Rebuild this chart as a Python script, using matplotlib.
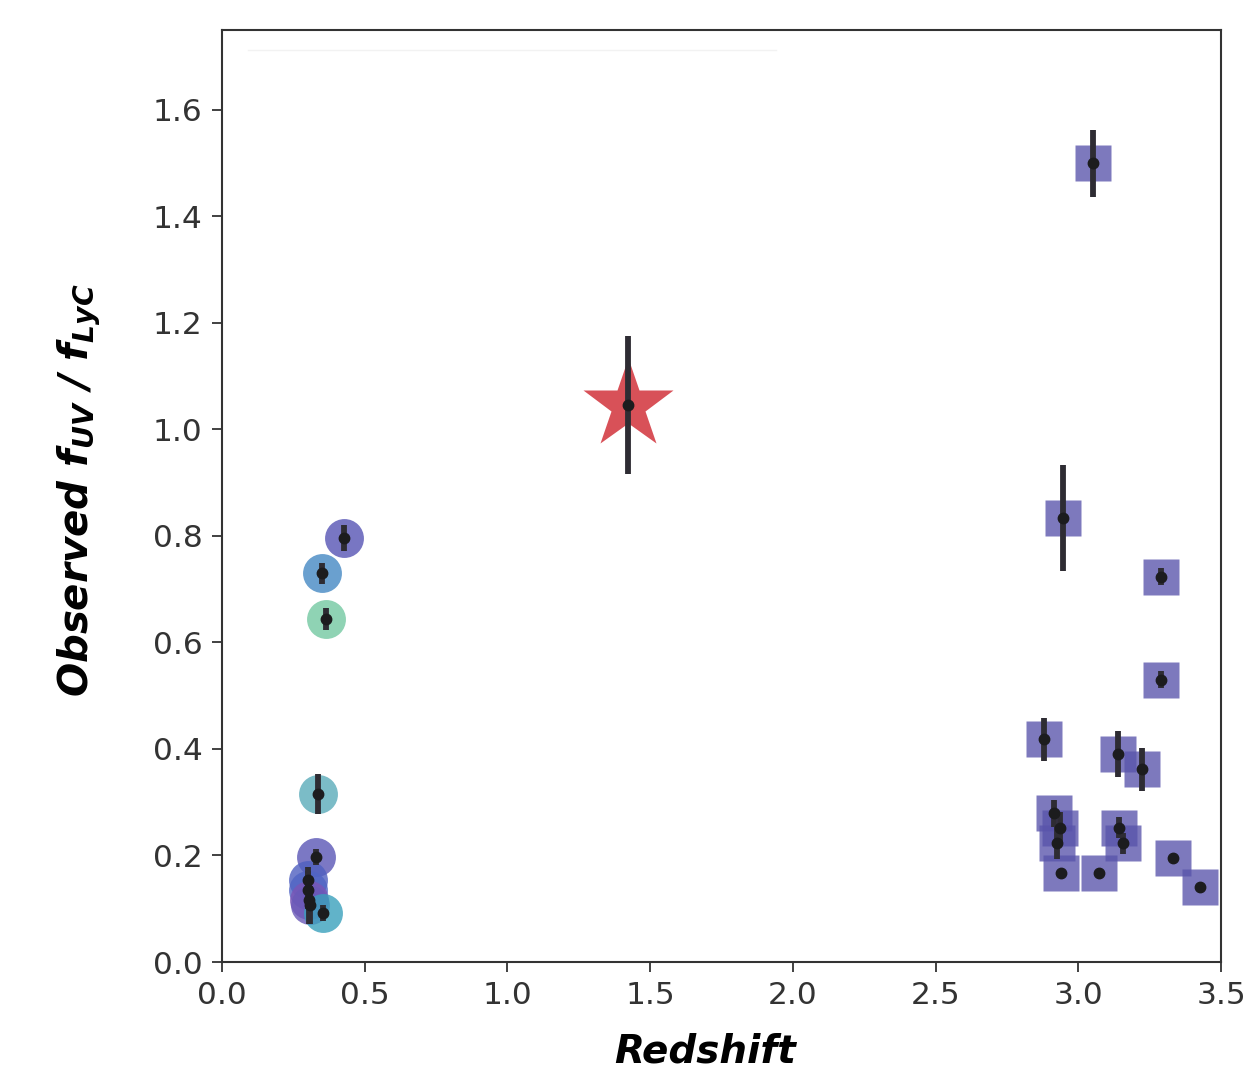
import matplotlib
matplotlib.use("Agg")
import matplotlib.pyplot as plt

# ---- data ----
lowz_z = [0.428, 0.351, 0.365, 0.337, 0.330, 0.302, 0.300, 0.305, 0.310, 0.354]
lowz_f = [0.796, 0.730, 0.644, 0.315, 0.197, 0.154, 0.135, 0.116, 0.107, 0.092]
lowz_err = [0.025, 0.020, 0.020, 0.038, 0.015, 0.025, 0.035, 0.045, 0.035, 0.015]
lowz_colors = ["#5654b5", "#4588c3", "#73c8a1", "#5aabba", "#5a56b6",
               "#4f5fc0", "#5064c4", "#7a55b5", "#6a5ab8", "#3aa0bc"]

highz_z = [3.052, 2.946, 3.290, 3.290, 2.881, 3.138, 3.224, 2.916, 2.937,
           2.925, 3.144, 3.158, 2.939, 3.074, 3.331, 3.425]
highz_f = [1.500, 0.834, 0.723, 0.530, 0.418, 0.390, 0.362, 0.279, 0.252,
           0.223, 0.252, 0.223, 0.168, 0.168, 0.196, 0.140]
highz_err = [0.063, 0.100, 0.016, 0.016, 0.040, 0.043, 0.040, 0.025, 0.030,
             0.030, 0.020, 0.020, 0.005, 0.005, 0.005, 0.005]
highz_color = "#5954ab"

star_z = [1.421]
star_f = [1.046]
star_err = [0.130]

xticks = [0.0, 0.5, 1.0, 1.5, 2.0, 2.5, 3.0, 3.5]
yticks = [0.0, 0.2, 0.4, 0.6, 0.8, 1.0, 1.2, 1.4, 1.6]

# ---- figure ----
fig = plt.figure(figsize=(12.57, 10.72), dpi=100)
ax = fig.add_axes([0.1766, 0.1026, 0.7948, 0.8694])

# low-z circles
for z, f, c in zip(lowz_z, lowz_f, lowz_colors):
    ax.plot([z], [f], marker="o", ms=28, color=c, alpha=0.8, mec="none",
            ls="none", zorder=2)
# high-z squares
ax.plot(highz_z, highz_f, marker="s", ms=25.5, color=highz_color, alpha=0.78,
        mec="none", ls="none", zorder=2)
# star
ax.plot(star_z, star_f, marker="*", ms=68, color="#d6474f", alpha=0.95,
        mec="none", ls="none", zorder=2)

# error bars with central dots
for xs, ys, es in [(lowz_z, lowz_f, lowz_err), (highz_z, highz_f, highz_err),
                   (star_z, star_f, star_err)]:
    ax.errorbar(xs, ys, yerr=es, fmt="o", ms=7.5, color="#1c1c1e",
                ecolor="#2e2c33", elinewidth=4.2, capsize=0, zorder=4)

# faint line near top (legend remnant)
ax.plot([0.09, 1.94], [1.713, 1.713], color="#f2f2f2", lw=1, zorder=1)

ax.set_xlim(0.0, 3.5)
ax.set_ylim(0.0, 1.75)
ax.set_xticks(xticks)
ax.set_yticks(yticks)
ax.set_xticklabels([f"{t:.1f}" for t in xticks])
ax.set_yticklabels([f"{t:.1f}" for t in yticks])
ax.tick_params(axis="both", labelsize=22.5, length=7, width=1.3,
               colors="#333333", direction="out", pad=7)
for s in ax.spines.values():
    s.set_color("#333333")
    s.set_linewidth(1.5)

ax.set_xlabel("Redshift", fontsize=28, fontweight="bold", fontstyle="italic",
              labelpad=16)
ax.xaxis.label.set_x(0.484)
ax.set_ylabel(r"Observed $\mathbfit{f}_{\mathbfit{UV}}$ / $\mathbfit{f}_{\mathbfit{LyC}}$",
              fontsize=29, fontweight="bold", fontstyle="italic", labelpad=36)
ax.yaxis.label.set_y(0.506)

fig.savefig("out.png", dpi=100, facecolor="white")
